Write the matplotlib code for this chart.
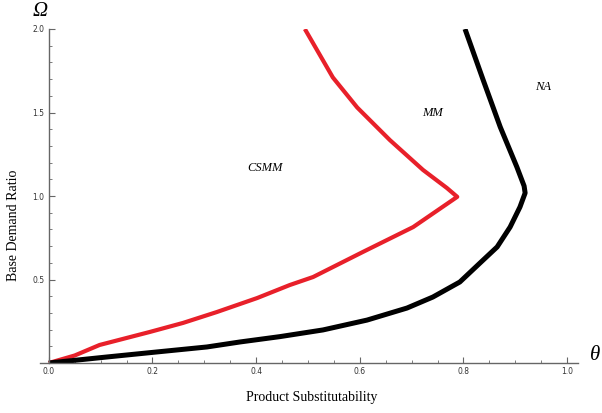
import matplotlib.pyplot as plt
import numpy as np

# boundary curves (theta, omega), lower branch then upper branch
csmm_theta = [0.0, 0.05, 0.098, 0.195, 0.259, 0.324, 0.402, 0.465, 0.510, 0.606, 0.703, 0.788,
              0.768, 0.722, 0.658, 0.595, 0.548, 0.494]
csmm_omega = [0.0, 0.045, 0.108, 0.186, 0.24, 0.305, 0.389, 0.467, 0.515, 0.665, 0.814, 0.995,
              1.048, 1.156, 1.335, 1.53, 1.71, 2.0]

na_theta = [0.0, 0.112, 0.208, 0.305, 0.369, 0.446, 0.529, 0.614, 0.691, 0.741, 0.793, 0.832,
            0.865, 0.890, 0.909, 0.919, 0.917, 0.903, 0.871, 0.838, 0.803]
na_omega = [0.0, 0.036, 0.066, 0.096, 0.126, 0.158, 0.198, 0.257, 0.329, 0.395, 0.485, 0.599,
            0.695, 0.814, 0.934, 1.018, 1.06, 1.174, 1.413, 1.695, 2.0]

regions = ["CSMM", "MM", "NA"]
region_x = [0.417, 0.741, 0.954]
region_y = [1.17, 1.50, 1.65]

fig = plt.figure(figsize=(6.02, 4.13), dpi=100)
ax = fig.add_axes([40/602, 50/413, 538/602, 334/413])

ax.plot(csmm_theta, csmm_omega, color="#e8202a", lw=3.0,
        solid_joinstyle="round", solid_capstyle="butt")
ax.plot(na_theta, na_omega, color="black", lw=3.6,
        solid_joinstyle="round", solid_capstyle="butt")

for name, x, y in zip(regions, region_x, region_y):
    ax.text(x, y, name, family="Liberation Serif", style="italic", fontsize=9,
            ha="center", va="center")

ax.set_xlim(-0.017, 1.021)
ax.set_ylim(0, 2.0)
ax.spines["left"].set_position(("data", 0))
ax.spines["right"].set_visible(False)
ax.spines["top"].set_visible(False)
for s in ("left", "bottom"):
    ax.spines[s].set_color("#666666")
    ax.spines[s].set_linewidth(1.0)

ax.set_xticks(np.arange(0, 1.01, 0.2))
ax.set_xticks(np.arange(0, 1.01, 0.05), minor=True)
ax.set_yticks([0.5, 1.0, 1.5, 2.0])
ax.set_yticks(np.arange(0.1, 2.01, 0.1), minor=True)
ax.xaxis.set_major_formatter(plt.FuncFormatter(lambda v, p: f"{v:.1f}"))
ax.yaxis.set_major_formatter(plt.FuncFormatter(lambda v, p: f"{v:.1f}"))
ax.tick_params(which="both", direction="in", color="#666666", labelsize=5.5,
               labelcolor="#333333", pad=3)
ax.tick_params(which="major", length=4, width=0.8)
ax.tick_params(which="minor", length=2, width=0.6)

fig.text(14/602, 1 - 225/413, "Base Demand Ratio", family="Liberation Serif",
         fontsize=10, rotation=90, ha="center", va="center")
fig.text(312/602, 1 - 398/413, "Product Substitutability", family="Liberation Serif",
         fontsize=10, ha="center", va="center")
fig.text(40/602, 1 - 12/413, "Ω", family="Liberation Serif", style="italic",
         fontsize=15, ha="center", va="center")
fig.text(595/602, 1 - 355/413, "θ", family="Liberation Serif", style="italic",
         fontsize=15, ha="center", va="center")

fig.savefig("out.png", dpi=100)
